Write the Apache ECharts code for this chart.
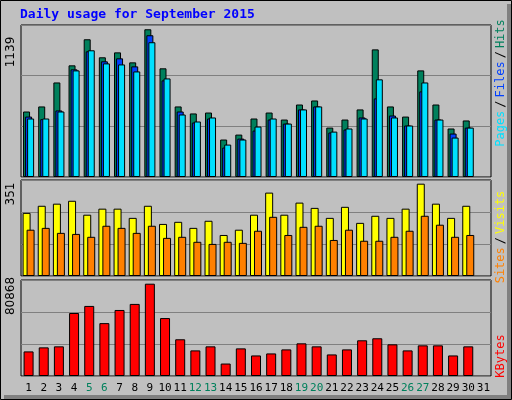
<!DOCTYPE html>
<html>
<head>
<meta charset="utf-8">
<script src="https://cdn.jsdelivr.net/npm/echarts@6/dist/echarts.min.js"></script>
<style>
html, body { margin: 0; padding: 0; background: #c0c0c0; }
#chart { width: 512px; height: 400px; }
</style>
</head>
<body>
<div id="chart"></div>
<script>
// Data
const days = ['1','2','3','4','5','6','7','8','9','10','11','12','13','14','15','16','17','18','19','20','21','22','23','24','25','26','27','28','29','30','31'];
const weekend = ['5','6','12','13','19','20','26','27'];
const hits  = [505,544,729,861,1062,923,961,884,1139,838,544,490,497,289,327,451,497,443,559,590,381,443,521,984,544,466,822,559,374,436,null];
const files = [466,446,513,830,969,892,915,853,1093,745,505,420,451,227,296,358,443,412,521,544,343,366,459,606,474,397,660,443,335,381,null];
const pages = [451,451,505,822,977,876,868,814,1039,760,482,428,459,250,289,389,451,412,521,544,350,374,451,753,459,397,729,443,304,381,null];
const visits = [240,267,275,286,233,256,256,221,267,198,206,183,210,156,176,233,317,233,279,259,221,263,202,229,221,256,351,275,221,267,null];
const sites  = [176,183,164,160,149,191,183,164,191,145,149,130,122,130,126,172,225,156,187,191,137,176,134,134,149,172,229,195,149,156,null];
const kbytes = [21540,25080,25970,55180,61380,46330,57840,63150,80868,50760,32170,22430,25970,10920,24200,18000,19770,23310,28620,25970,18890,23310,31280,33050,27740,22430,26850,26850,18000,25970,null];

const maxTop = 1172, maxMid = 365, maxBot = 84100;

let chart = echarts.init(document.getElementById('chart'));

const gridBase = { left: 21, right: 21, show: true, borderColor: '#000', borderWidth: 1, backgroundColor: '#c0c0c0' };
const yAx = (i, max) => ({
    gridIndex: i, type: 'value', min: 0, max: max, interval: max / 3,
    axisLabel: { show: false }, axisLine: { show: false }, axisTick: { show: false },
    splitLine: { lineStyle: { color: '#808080', width: 1 } }
});
const xAx = (i, labels) => ({
    gridIndex: i, type: 'category', data: days,
    axisLine: { show: false }, axisTick: { show: false },
    axisLabel: labels ? {
        show: true, interval: 0, margin: 7,
        fontFamily: 'DejaVu Sans Mono', fontSize: 11,
        formatter: v => weekend.includes(v) ? `{w|${v}}` : `{n|${v}}`,
        rich: { w: { color: '#00805c', fontFamily: 'DejaVu Sans Mono', fontSize: 11 }, n: { color: '#000', fontFamily: 'DejaVu Sans Mono', fontSize: 11 } }
    } : { show: false }
});
const bar = (name, data, color, xi, width, gap) => ({
    name: name, type: 'bar', data: data, xAxisIndex: xi, yAxisIndex: xi,
    barWidth: width, barGap: gap, animation: false,
    itemStyle: { color: color, borderColor: '#000', borderWidth: 1 }
});

option = {
    backgroundColor: '#c0c0c0',
    grid: [
        Object.assign({ top: 25, height: 152 }, gridBase),
        Object.assign({ top: 180, height: 96 }, gridBase),
        Object.assign({ top: 280, height: 96 }, gridBase)
    ],
    xAxis: [xAx(0, false), xAx(1, false), xAx(2, true)],
    yAxis: [yAx(0, maxTop), yAx(1, maxMid), yAx(2, maxBot)],
    series: [
        bar('Hits', hits, '#00805c', 0, 7, '-71%'),
        bar('Files', files, '#0040ff', 0, 7, '-71%'),
        bar('Pages', pages, '#00e0ff', 0, 7, '-71%'),
        bar('Visits', visits, '#ffff00', 1, 8, '-50%'),
        bar('Sites', sites, '#ff8000', 1, 8, '-50%'),
        bar('KBytes', kbytes, '#ff0000', 2, 10, '0%')
    ],
    graphic: [
        { type: 'rect', shape: { x: 0.5, y: 0.5, width: 511, height: 399 }, style: { fill: null, stroke: '#000', lineWidth: 1 }, silent: true },
        { type: 'rect', shape: { x: 507, y: 4, width: 4, height: 395 }, style: { fill: '#808080' }, silent: true },
        { type: 'rect', shape: { x: 4, y: 395, width: 507, height: 4 }, style: { fill: '#808080' }, silent: true },
        { type: 'text', left: 20, top: 8, style: { text: 'Daily usage for September 2015', fill: '#0000ff', font: 'bold 13px "DejaVu Sans Mono"' } },
        { type: 'text', x: 11, y: 52, rotation: Math.PI / 2, style: { text: '1139', fill: '#000', font: '12px "DejaVu Sans"', align: 'center', verticalAlign: 'middle' } },
        { type: 'text', x: 11, y: 194, rotation: Math.PI / 2, style: { text: '351', fill: '#000', font: '12px "DejaVu Sans"', align: 'center', verticalAlign: 'middle' } },
        { type: 'text', x: 11, y: 296, rotation: Math.PI / 2, style: { text: '80868', fill: '#000', font: '12px "DejaVu Sans"', align: 'center', verticalAlign: 'middle' } },
        { type: 'text', x: 501, y: 83, rotation: Math.PI / 2, style: {
            text: '{p|Pages}{s|/}{f|Files}{s|/}{h|Hits}', align: 'center', verticalAlign: 'middle',
            rich: {
                p: { fill: '#00e0ff', font: '12px "DejaVu Sans Mono"' },
                f: { fill: '#0040ff', font: '12px "DejaVu Sans Mono"' },
                h: { fill: '#00805c', font: '12px "DejaVu Sans Mono"' },
                s: { fill: '#000', font: '12px "DejaVu Sans Mono"', padding: [0, 3] }
            } } },
        { type: 'text', x: 501, y: 237, rotation: Math.PI / 2, style: {
            text: '{a|Sites}{s|/}{b|Visits}', align: 'center', verticalAlign: 'middle',
            rich: {
                a: { fill: '#ff8000', font: '12px "DejaVu Sans Mono"' },
                b: { fill: '#ffff00', font: '12px "DejaVu Sans Mono"' },
                s: { fill: '#000', font: '12px "DejaVu Sans Mono"', padding: [0, 3] }
            } } },
        { type: 'text', x: 501, y: 356, rotation: Math.PI / 2, style: { text: 'KBytes', fill: '#ff0000', font: '12px "DejaVu Sans Mono"', align: 'center', verticalAlign: 'middle' } }
    ]
};
chart.setOption(option);
</script>
</body>
</html>
